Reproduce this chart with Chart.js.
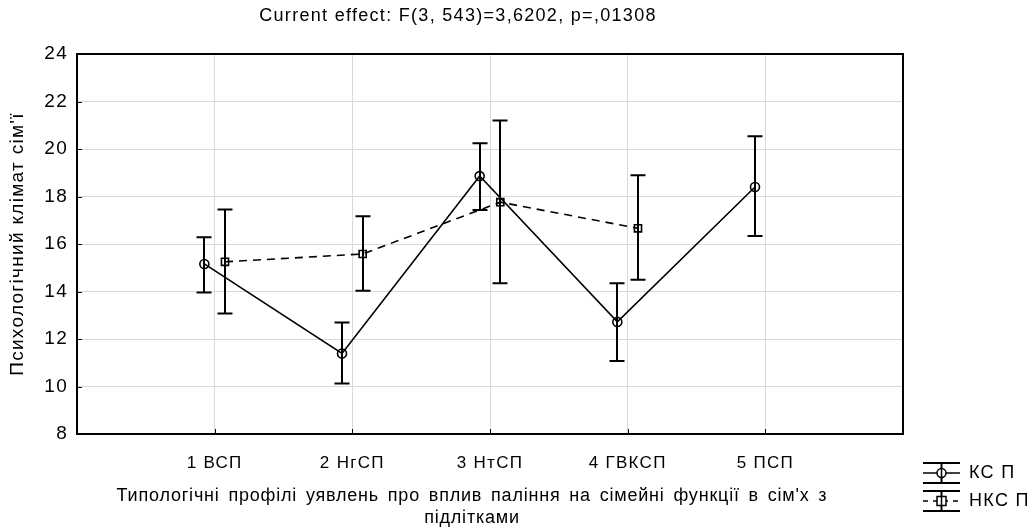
<!DOCTYPE html>
<html>
<head>
<meta charset="utf-8">
<script src="https://cdn.jsdelivr.net/npm/chart.js@4/dist/chart.umd.min.js"></script>
<style>
  html, body { margin: 0; padding: 0; background: #ffffff; }
  #wrap { width: 1032px; height: 532px; position: relative; }
</style>
</head>
<body>
<div id="wrap"><canvas id="chart"></canvas></div>
<script>
// Profile categories on the x axis
const categories = ['1 ВСП', '2 НгСП', '3 НтСП', '4 ГВКСП', '5 ПСП'];

// Series "КС П": means with lower / upper interval bounds
const ksMean  = [15.16, 11.39, 18.86, 12.72, 18.40];
const ksLower = [13.96, 10.13, 17.43, 11.07, 16.34];
const ksUpper = [16.28, 12.69, 20.24, 14.35, 20.54];

// Series "НКС П": means with lower / upper interval bounds (no value for 5 ПСП)
const nksMean  = [15.25, 15.58, 17.76, 16.66, null];
const nksLower = [13.07, 14.03, 14.35, 14.49, null];
const nksUpper = [17.45, 17.17, 21.20, 18.89, null];

// Y axis range and step
const yTicks = { min: 8, max: 24, step: 2 };

const seriesNames = ['КС П', 'НКС П'];
const titleText = 'Current effect: F(3, 543)=3,6202, p=,01308';
const xTitle = ['Типологічні профілі уявлень про вплив паління на сімейні функції в сім\'х з', 'підлітками'];
const yTitle = 'Психологічний клімат сім\'ї';

const FONT = '"Liberation Sans", Arial, sans-serif';
const SHIFT = 0.075; // horizontal shift of the two series around each category

function buildPoints(mean, lower, upper, shift) {
  const pts = [];
  mean.forEach((m, i) => {
    if (m === null) return;
    pts.push({ x: i + 1 + shift, y: m, lo: lower[i], hi: upper[i] });
  });
  return pts;
}

// Slightly wider text tracking for the axis labels
function setTracking(chart) {
  if ('letterSpacing' in chart.ctx) chart.ctx.letterSpacing = '1.3px';
}
const tracking = {
  id: 'tracking',
  beforeUpdate: setTracking,
  beforeLayout: setTracking,
  beforeDraw: setTracking
};

// Whiskers with caps for every point
const errorBars = {
  id: 'errorBars',
  afterDatasetsDraw(chart) {
    const ctx = chart.ctx;
    const yScale = chart.scales.y;
    ctx.save();
    ctx.strokeStyle = '#000';
    ctx.lineWidth = 2;
    ctx.setLineDash([]);
    chart.data.datasets.forEach((ds, di) => {
      const meta = chart.getDatasetMeta(di);
      meta.data.forEach((el, i) => {
        const p = ds.data[i];
        const x = Math.round(el.x);
        const yLo = yScale.getPixelForValue(p.lo);
        const yHi = yScale.getPixelForValue(p.hi);
        const cap = 7.5;
        ctx.beginPath();
        ctx.moveTo(x, yHi); ctx.lineTo(x, yLo);
        ctx.moveTo(x - cap, yHi); ctx.lineTo(x + cap, yHi);
        ctx.moveTo(x - cap, yLo); ctx.lineTo(x + cap, yLo);
        ctx.stroke();
      });
    });
    ctx.restore();
  }
};

// Plot frame and inner tick marks
const frame = {
  id: 'frame',
  afterDraw(chart) {
    const ctx = chart.ctx;
    const a = chart.chartArea;
    const xs = chart.scales.x, ys = chart.scales.y;
    ctx.save();
    ctx.strokeStyle = '#000';
    ctx.lineWidth = 1;
    ctx.beginPath();
    ys.ticks.forEach(t => {
      const y = Math.round(ys.getPixelForValue(t.value)) + 0.5;
      ctx.moveTo(a.left, y); ctx.lineTo(a.left + 5, y);
    });
    xs.ticks.forEach(t => {
      if (t.value < 1 || t.value > categories.length) return;
      const x = Math.round(xs.getPixelForValue(t.value)) + 0.5;
      ctx.moveTo(x, a.bottom); ctx.lineTo(x, a.bottom - 5);
    });
    ctx.stroke();
    ctx.lineWidth = 2;
    ctx.strokeRect(a.left, a.top, a.right - a.left, a.bottom - a.top);
    ctx.restore();
  }
};

// X axis title: two centred lines below the tick labels
const xAxisTitle = {
  id: 'xAxisTitle',
  afterDraw(chart) {
    const ctx = chart.ctx;
    const cx = 472;
    const lineY = [496, 518];
    const extraGap = 3;
    ctx.save();
    if ('letterSpacing' in ctx) ctx.letterSpacing = '0.8px';
    ctx.font = '18px ' + FONT;
    ctx.fillStyle = '#000';
    ctx.textBaseline = 'middle';
    ctx.textAlign = 'left';
    const space = ctx.measureText(' ').width + extraGap;
    xTitle.forEach((line, li) => {
      const words = line.split(' ');
      const widths = words.map(w => ctx.measureText(w).width);
      const total = widths.reduce((s, w) => s + w, 0) + space * (words.length - 1);
      let x = cx - total / 2;
      words.forEach((w, wi) => {
        ctx.fillText(w, x, lineY[li]);
        x += widths[wi] + space;
      });
    });
    ctx.restore();
  }
};

// Legend with whisker-style symbols in the lower right corner
const legendBox = {
  id: 'legendBox',
  afterDraw(chart) {
    const ctx = chart.ctx;
    const x0 = 923, x1 = 960, xc = 941.5;
    const rows = [
      { y: 473, dash: [], marker: 'circle' },
      { y: 501, dash: [5, 5], marker: 'rect' }
    ];
    ctx.save();
    ctx.strokeStyle = '#000';
    rows.forEach((r, i) => {
      ctx.lineWidth = 2;
      ctx.setLineDash([]);
      ctx.beginPath();
      ctx.moveTo(x0, r.y - 10); ctx.lineTo(x1, r.y - 10);
      ctx.moveTo(x0, r.y + 10); ctx.lineTo(x1, r.y + 10);
      ctx.moveTo(xc, r.y - 10); ctx.lineTo(xc, r.y + 10);
      ctx.stroke();
      ctx.lineWidth = 1.5;
      ctx.setLineDash(r.dash);
      ctx.beginPath();
      ctx.moveTo(x0, r.y); ctx.lineTo(x1, r.y);
      ctx.stroke();
      ctx.setLineDash([]);
      ctx.beginPath();
      if (r.marker === 'circle') {
        ctx.arc(xc, r.y, 4.5, 0, Math.PI * 2);
      } else {
        ctx.rect(xc - 4.5, r.y - 4.5, 9, 9);
      }
      ctx.fillStyle = '#fff';
      ctx.fill();
      ctx.stroke();
      ctx.beginPath();
      ctx.moveTo(xc, r.y - 4.5); ctx.lineTo(xc, r.y + 4.5);
      ctx.stroke();
      ctx.fillStyle = '#000';
      ctx.font = '18px ' + FONT;
      ctx.textBaseline = 'middle';
      ctx.textAlign = 'left';
      ctx.fillText(seriesNames[i], 969, r.y);
    });
    ctx.restore();
  }
};

new Chart(document.getElementById('chart'), {
  type: 'scatter',
  data: {
    datasets: [
      {
        label: seriesNames[0],
        data: buildPoints(ksMean, ksLower, ksUpper, -SHIFT),
        showLine: true,
        borderColor: '#000',
        borderWidth: 1.6,
        pointStyle: 'circle',
        pointRadius: 4.5,
        pointBorderWidth: 1.6,
        pointBorderColor: '#000',
        pointBackgroundColor: 'rgba(255,255,255,0)'
      },
      {
        label: seriesNames[1],
        data: buildPoints(nksMean, nksLower, nksUpper, SHIFT),
        showLine: true,
        borderColor: '#000',
        borderWidth: 1.6,
        borderDash: [8, 6],
        pointStyle: 'rect',
        pointRadius: 5,
        pointBorderWidth: 1.6,
        pointBorderColor: '#000',
        pointBackgroundColor: 'rgba(255,255,255,0)'
      }
    ]
  },
  options: {
    responsive: true,
    maintainAspectRatio: false,
    animation: false,
    devicePixelRatio: 1,
    layout: { padding: { top: 0, left: 13, right: 129, bottom: 0 } },
    plugins: {
      legend: { display: false },
      tooltip: { enabled: false },
      title: {
        display: true,
        text: titleText,
        color: '#000',
        font: { family: FONT, size: 18, weight: 'normal', lineHeight: 1.2 },
        padding: { top: 5.2, bottom: 27.2 }
      }
    },
    scales: {
      x: {
        type: 'linear',
        min: 0,
        max: categories.length + 1,
        afterFit(scale) { scale.height = 98; },
        ticks: {
          stepSize: 1,
          autoSkip: false,
          maxRotation: 0,
          padding: 19,
          color: '#000',
          font: { family: FONT, size: 17 },
          callback: v => (v >= 1 && v <= categories.length) ? categories[v - 1] : ''
        },
        grid: { color: '#d9d9d9', lineWidth: 1, drawTicks: false },
        border: { display: false },
        title: { display: false }
      },
      y: {
        min: yTicks.min,
        max: yTicks.max,
        afterFit(scale) { scale.width = 64; },
        ticks: {
          stepSize: yTicks.step,
          padding: 9,
          color: '#000',
          font: { family: FONT, size: 19 }
        },
        grid: { color: '#d9d9d9', lineWidth: 1, drawTicks: false },
        border: { display: false },
        title: {
          display: true,
          text: yTitle,
          color: '#000',
          font: { family: FONT, size: 19, lineHeight: 1.2 },
          padding: { top: -6.4, bottom: 0 }
        }
      }
    }
  },
  plugins: [tracking, errorBars, frame, xAxisTitle, legendBox]
});
</script>
</body>
</html>
